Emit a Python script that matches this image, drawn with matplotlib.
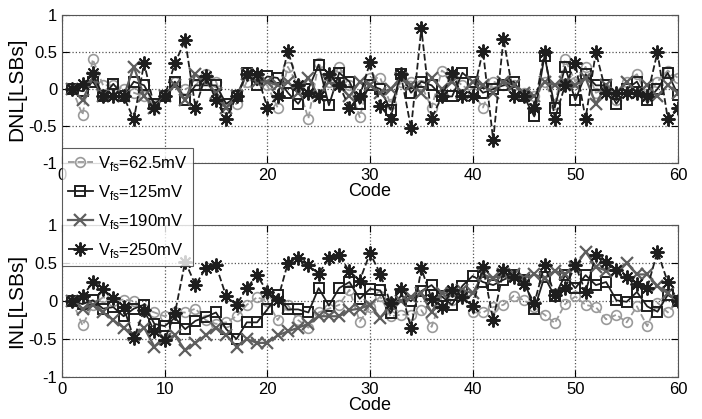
import numpy as np
import matplotlib
matplotlib.use("Agg")
import matplotlib.pyplot as plt
from matplotlib.ticker import FuncFormatter, MultipleLocator

plt.rcParams["font.family"] = ["Liberation Sans", "DejaVu Sans"]
plt.rcParams["mathtext.fontset"] = "custom"
plt.rcParams["mathtext.rm"] = "Liberation Sans"

code = np.arange(1, 61)

labels = [r"V$_\mathregular{fs}$=62.5mV", r"V$_\mathregular{fs}$=125mV",
          r"V$_\mathregular{fs}$=190mV", r"V$_\mathregular{fs}$=250mV"]

# DNL [LSB]
dnl_62 = [0, -0.35, 0.4, 0.05, 0.05, 0, -0.05, -0.1, -0.2, -0.1,
          0.1, 0, 0.05, 0.2, 0.1, -0.25, -0.2, 0.1, 0.15, 0.05,
          -0.25, 0.3, 0.05, -0.4, 0.35, 0.1, 0.3, 0.05, -0.38, 0.15,
          0.15, -0.2, 0.1, 0.1, 0.05, -0.25, 0.25, 0.15, 0.05, -0.05,
          -0.25, 0.1, 0.05, 0.05, -0.05, -0.1, 0.1, -0.2, 0.4, 0.1,
          0.3, -0.05, 0, -0.15, 0.1, 0.2, -0.1, 0.1, 0.25, 0.15]
dnl_125 = [0, -0.03, 0.1, -0.1, 0.07, -0.1, 0.1, 0.05, -0.2, -0.1,
           0.1, -0.15, 0.05, 0.05, 0.05, -0.2, -0.1, 0.22, 0.05, 0.17,
           0.15, -0.05, -0.2, 0, 0.33, -0.22, 0.22, 0.1, -0.2, 0.05,
           0, -0.28, 0.2, -0.05, 0.1, 0.05, -0.1, -0.1, 0.22, 0.1,
           -0.05, 0, 0.05, 0.1, -0.1, -0.37, 0.45, -0.25, 0.3, -0.15,
           0.2, 0.05, 0.05, -0.2, 0, 0.1, -0.15, 0, 0.22, -0.08]
dnl_190 = [0, -0.15, 0.15, -0.1, -0.1, -0.1, 0.3, -0.1, -0.25, -0.1,
           0.05, -0.15, 0.2, 0.1, -0.05, -0.25, -0.1, 0.2, 0.1, 0.1,
           0.05, 0.1, -0.05, 0.15, -0.1, 0.1, 0.05, -0.1, 0.1, 0.05,
           -0.05, 0, 0.15, 0.05, -0.05, 0.15, 0, 0.1, -0.05, 0.1,
           0.05, -0.05, 0.1, 0.05, -0.05, -0.1, 0.1, 0.05, 0.1, 0.05,
           0.15, -0.2, 0.05, -0.05, 0.1, -0.05, 0.05, -0.1, 0.05, -0.05]
dnl_250 = [0, 0.07, 0.22, -0.1, -0.1, -0.1, -0.41, 0.35, -0.25, -0.1,
           0.35, 0.66, -0.25, 0.18, -0.15, -0.4, -0.1, 0.2, 0.2, -0.25,
           -0.1, 0.52, 0.05, -0.05, -0.1, 0.2, 0.05, -0.25, -0.1, 0.36,
           -0.23, -0.4, 0.2, -0.53, 0.82, -0.4, -0.1, 0.22, -0.1, -0.1,
           0.52, -0.69, 0.68, -0.1, -0.1, -0.25, 0.5, -0.4, 0.05, 0.35,
           -0.4, 0.5, -0.05, -0.05, -0.05, -0.05, -0.1, 0.5, -0.4, -0.25]

# INL [LSB]
inl_62 = [0, -0.32, -0.05, 0.05, 0, 0.02, 0, -0.1, -0.15, -0.2,
          -0.15, -0.15, -0.1, -0.25, -0.3, -0.28, -0.2, -0.05, 0.05, 0,
          -0.25, -0.05, -0.25, -0.35, -0.15, -0.1, -0.05, 0.15, -0.27, -0.08,
          0.06, -0.2, -0.18, -0.18, -0.12, -0.34, 0.06, 0.01, 0.07, -0.15,
          -0.15, -0.08, -0.05, 0.07, 0.01, -0.08, -0.18, -0.29, -0.04, 0.06,
          -0.05, -0.08, -0.24, -0.18, -0.28, -0.07, -0.33, -0.02, -0.15, 0]
inl_125 = [0, -0.04, 0.01, -0.1, -0.08, -0.2, -0.1, -0.05, -0.3, -0.33,
           -0.22, -0.37, -0.26, -0.21, -0.15, -0.37, -0.5, -0.28, -0.28, -0.11,
           0.08, -0.11, -0.11, -0.15, 0.17, -0.06, 0.17, 0.25, 0.03, 0.16,
           0.14, -0.16, 0.07, 0, 0.13, 0.21, 0.06, -0.05, 0.2, 0.33,
           0.25, 0.21, 0.28, 0.34, 0.28, -0.11, 0.32, 0.06, 0.34, 0.17,
           0.34, 0.21, 0.25, 0.01, -0.01, 0.12, -0.07, -0.14, 0.08, 0]
inl_190 = [0, -0.1, -0.05, -0.15, -0.25, -0.35, -0.45, -0.35, -0.6, -0.5,
           -0.45, -0.65, -0.55, -0.45, -0.35, -0.45, -0.6, -0.5, -0.55, -0.55,
           -0.45, -0.4, -0.35, -0.3, -0.2, -0.2, -0.2, -0.12, -0.1, -0.05,
           -0.22, -0.05, 0, 0.05, 0.1, -0.15, 0.1, 0.1, 0.15, 0.1,
           0.35, 0.3, 0.35, 0.35, 0.3, 0.35, 0.3, 0.4, 0.35, 0.45,
           0.65, 0.45, 0.4, 0.4, 0.5, 0.35, 0.35, 0.2, 0.1, 0]
inl_250 = [0, 0.06, 0.25, 0.16, 0.04, -0.08, -0.49, -0.12, -0.4, -0.51,
           -0.16, 0.52, 0.21, 0.43, 0.47, 0.06, -0.05, 0.17, 0.34, 0.12,
           0.01, 0.5, 0.56, 0.47, 0.36, 0.56, 0.6, 0.39, 0.27, 0.63,
           0.36, -0.03, 0.16, -0.36, 0.43, 0.03, -0.08, 0.14, 0.05, -0.07,
           0.45, -0.25, 0.41, 0.32, 0.23, -0.03, 0.47, 0.08, 0.17, 0.47,
           0.12, 0.6, 0.52, 0.41, 0.32, 0.23, 0.17, 0.65, 0.25, 0]

styles = [
    dict(color="#9a9a9a", marker="o", ls="--", mfc="none", ms=7, lw=1.3, mew=1.2),
    dict(color="#1e1e1e", marker="s", ls="-", mfc="none", ms=7, lw=1.3, mew=1.4),
    dict(color="#5e5e5e", marker="x", ls="-", mfc="none", ms=8, lw=1.6, mew=1.6),
    dict(color="#1e1e1e", marker=(8, 2, 0), ls="--", mfc="none", ms=10, lw=1.3, mew=1.4),
]

fig = plt.figure(figsize=(7.02, 4.19), dpi=100)
ax1 = fig.add_axes([0.0883, 0.611, 0.8775, 0.353])
ax2 = fig.add_axes([0.0883, 0.100, 0.8775, 0.363])

fmt = FuncFormatter(lambda v, p: "%g" % v)
handles = []
for ax, series, ylab in [(ax1, [dnl_62, dnl_125, dnl_190, dnl_250], "DNL[LSBs]"),
                         (ax2, [inl_62, inl_125, inl_190, inl_250], "INL[LSBs]")]:
    hs = []
    for y, st, lab in zip(series, styles, labels):
        h, = ax.plot(code, y, label=lab, **st)
        hs.append(h)
    handles = hs
    ax.set_xlim(0, 60)
    ax.set_ylim(-1, 1)
    ax.xaxis.set_major_locator(MultipleLocator(10))
    ax.yaxis.set_major_locator(MultipleLocator(0.5))
    ax.yaxis.set_major_formatter(fmt)
    ax.grid(True, linestyle=":", color="#555555", linewidth=0.9)
    ax.tick_params(direction="in", labelsize=12, length=5, top=True, right=True)
    ax.set_xlabel("Code", fontsize=13, labelpad=0)
    ax.set_ylabel(ylab, fontsize=15, labelpad=2)
    for s in ax.spines.values():
        s.set_color("#555555")

# the legend hides the "10" label of the upper axis, as in the original
ax1.xaxis.set_major_formatter(FuncFormatter(lambda v, p: "" if v == 10 else "%g" % v))

leg = fig.legend(handles, labels, loc="upper left",
                 bbox_to_anchor=(0.0883, 0.647), fontsize=12,
                 frameon=True, fancybox=False, edgecolor="#333333",
                 borderaxespad=0, handlelength=1.5, handletextpad=0.3,
                 labelspacing=0.6, borderpad=0.35)
leg.get_frame().set_linewidth(0.8)
leg.set_zorder(10)

fig.savefig("out.png", dpi=100)
